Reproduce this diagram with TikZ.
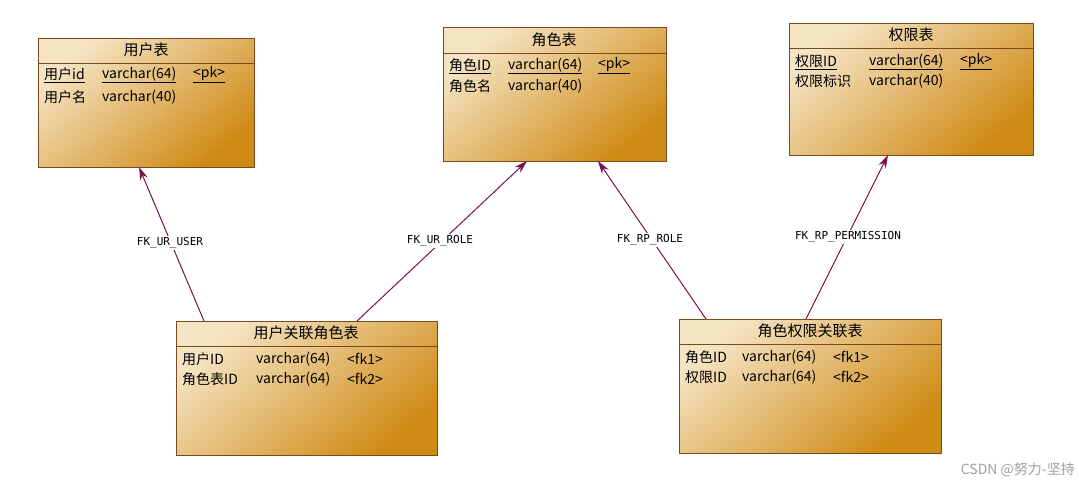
\documentclass[tikz,border=0pt]{standalone}
\usepackage{fontspec}
\setmainfont{Noto Sans CJK SC}
\newfontfamily\lblfont{DejaVu Sans Mono}
\usetikzlibrary{arrows.meta}
\definecolor{bordc}{HTML}{7A4A1E}
\definecolor{lightc}{HTML}{F5E4C4}
\definecolor{darkc}{HTML}{CF8A14}
\definecolor{fkc}{HTML}{7B1050}
\tikzset{
  tbl/.style={draw=bordc, line width=1pt, top color=lightc, bottom color=darkc, shading angle=40, inner sep=0pt},
  ttl/.style={font=\fontsize{15}{17}\selectfont, inner sep=0pt},
  row/.style={font=\fontsize{14}{16}\selectfont, anchor=west, inner sep=0pt},
  fk/.style={draw=fkc, line width=1pt, -{Stealth[length=13pt,width=8pt]}},
  fklbl/.style={font=\lblfont\fontsize{11}{13}\selectfont, fill=white, inner sep=1.5pt}
}
\begin{document}
\begin{tikzpicture}[x=1pt,y=-1pt]
\useasboundingbox (0,0) rectangle (1079,488);
% tables
\node[tbl, minimum width=216, minimum height=129, anchor=north west] (u) at (38,38) {};
\node[tbl, minimum width=223, minimum height=134, anchor=north west] (r) at (443,27) {};
\node[tbl, minimum width=244, minimum height=132, anchor=north west] (p) at (789,23) {};
\node[tbl, minimum width=261, minimum height=134, anchor=north west] (ur) at (176,321) {};
\node[tbl, minimum width=262, minimum height=134, anchor=north west] (rp) at (679,319) {};
\draw[bordc, line width=1pt] (38,63) -- (254,63) (443,53) -- (666,53) (789,48) -- (1033,48) (176,346) -- (437,346) (679,344) -- (941,344);
% titles
\node[ttl] (ut) at (146,50) {用户表};
\node[ttl] (rt) at (554,40) {角色表};
\node[ttl] (pt) at (911,35) {权限表};
\node[ttl] (urt) at (306,333) {用户关联角色表};
\node[ttl] (rpt) at (810,331) {角色权限关联表};
% rows
\node[row] (u1) at (44,75) {\underline{用户id}};
\node[row] (u2) at (102,75) {\underline{varchar(64)}};
\node[row] (u3) at (193,75) {\underline{<pk>}};
\node[row] (u4) at (44,97) {用户名};
\node[row] (u5) at (102,97) {varchar(40)};
\node[row] (r1) at (449,66) {\underline{角色ID}};
\node[row] (r2) at (508,66) {\underline{varchar(64)}};
\node[row] (r3) at (598,66) {\underline{<pk>}};
\node[row] (r4) at (449,86) {角色名};
\node[row] (r5) at (508,86) {varchar(40)};
\node[row] (p1) at (795,62) {\underline{权限ID}};
\node[row] (p2) at (869,62) {\underline{varchar(64)}};
\node[row] (p3) at (960,62) {\underline{<pk>}};
\node[row] (p4) at (795,81) {权限标识};
\node[row] (p5) at (869,81) {varchar(40)};
\node[row] (a1) at (182,359) {用户ID};
\node[row] (a2) at (256,359) {varchar(64)};
\node[row] (a3) at (347,359) {<fk1>};
\node[row] (a4) at (182,379) {角色表ID};
\node[row] (a5) at (256,379) {varchar(64)};
\node[row] (a6) at (347,379) {<fk2>};
\node[row] (b1) at (685,357) {角色ID};
\node[row] (b2) at (742,357) {varchar(64)};
\node[row] (b3) at (833,357) {<fk1>};
\node[row] (b4) at (685,377) {权限ID};
\node[row] (b5) at (742,377) {varchar(64)};
\node[row] (b6) at (833,377) {<fk2>};
% connectors
\coordinate (c1s) at (204,321); \coordinate (c1e) at (139,167);
\coordinate (c2s) at (357,321); \coordinate (c2e) at (527,161);
\coordinate (c3s) at (706,319); \coordinate (c3e) at (598,161);
\coordinate (c4s) at (806,319); \coordinate (c4e) at (888,155);
\draw[fk] (c1s) -- (c1e);
\draw[fk] (c2s) -- (c2e);
\draw[fk] (c3s) -- (c3e);
\draw[fk] (c4s) -- (c4e);
\node[fklbl] (l1) at (170,243) {FK\_UR\_USER};
\node[fklbl] (l2) at (440,241) {FK\_UR\_ROLE};
\node[fklbl] (l3) at (650,240) {FK\_RP\_ROLE};
\node[fklbl] (l4) at (848,237) {FK\_RP\_PERMISSION};
\node[font=\fontsize{14}{16}\selectfont, text=gray!75, anchor=east, inner sep=0pt] (wm) at (1075,470) {CSDN @努力-坚持};
\end{tikzpicture}
\end{document}
